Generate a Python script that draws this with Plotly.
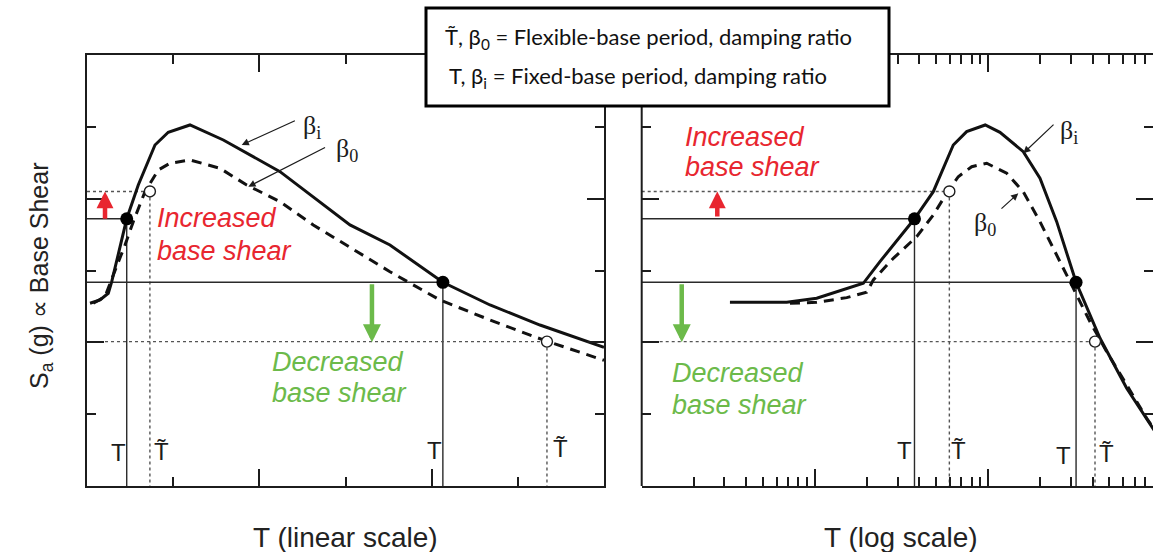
import numpy as np
import plotly.graph_objects as go

# ---------------- data ----------------
# Left panel: linear period axis (arbitrary units 0..6), Sa in arbitrary units 0..6
T_lin_fixed = [0.035, 0.151, 0.247, 0.287, 0.461, 0.595, 0.789, 0.943, 1.195, 1.582,
               2.240, 3.052, 3.516, 4.13, 4.677, 5.257, 6.0]
Sa_lin_fixed = [2.544, 2.589, 2.683, 2.844, 3.72, 4.190, 4.747, 4.924, 5.026, 4.817,
                4.376, 3.634, 3.355, 2.836, 2.520, 2.241, 1.93]
T_lin_flex = [0.073, 0.209, 0.305, 0.441, 0.537, 0.673, 0.827, 0.963, 1.195, 1.543,
              1.853, 2.240, 2.626, 3.014, 3.516, 4.097, 4.677, 5.295, 6.0]
Sa_lin_flex = [2.544, 2.635, 2.937, 3.355, 3.680, 4.097, 4.399, 4.493, 4.539, 4.423,
               4.190, 3.958, 3.634, 3.355, 2.983, 2.589, 2.311, 2.033, 1.75]

# Right panel: log period axis (0.01..~9)
T_log_fixed = [0.0323, 0.0687, 0.1023, 0.1456, 0.190, 0.237, 0.309, 0.375, 0.4815, 0.628,
               0.750, 0.96, 1.168, 1.592, 1.987, 2.481, 3.21, 4.413, 6.289, 8.885, 9.8]
Sa_log_fixed = [2.557, 2.557, 2.613, 2.729, 2.822, 3.123, 3.460, 3.72, 4.097, 4.747,
                4.933, 5.026, 4.924, 4.654, 4.284, 3.680, 2.836, 2.056, 1.360, 0.803, 0.65]
T_log_flex = [0.0717, 0.1023, 0.1524, 0.1987, 0.2170, 0.283, 0.386, 0.4815, 0.575, 0.671,
              0.802, 0.979, 1.277, 1.592, 1.987, 2.481, 3.164, 3.863, 4.823, 6.289, 8.204, 9.8]
Sa_log_flex = [2.544, 2.557, 2.622, 2.697, 2.868, 3.170, 3.471, 3.773, 4.074, 4.306,
               4.445, 4.493, 4.354, 4.097, 3.680, 3.216, 2.705, 2.287, 1.870, 1.406, 0.943, 0.668]

# Key points: fixed-base (T, beta_i) -> filled dots ; flexible-base (T~, beta_0) -> open circles
Sa_fixed_pts = [3.72, 2.836]
Sa_flex_pts = [4.10, 2.01]
T_fixed_lin = [0.461, 4.13]
T_flex_lin = [0.73, 5.338]
T_fixed_log = [0.375, 3.21]
T_flex_log = [0.596, 4.128]

X_LIN_RANGE = [0, 6]
Y_RANGE = [0, 6]
T_LOG_MIN = 0.01
X_LOG_RANGE = [-2, 0.9504]

# ---------------- layout constants ----------------
W, H = 1153, 552
def px_x(p):
    return p / W
def px_y(p):
    return (H - p) / H

XL_DOM = [px_x(87), px_x(604)]
XR_DOM = [px_x(641.7), 1.0]
Y_DOM = [px_y(486), px_y(55)]

INK = "#1c1c1c"
RED = "#e8262f"
GREEN = "#6cba4a"
SANS = "Liberation Sans, Arial, sans-serif"
SERIF = "Liberation Serif, Times New Roman, serif"

fig = go.Figure()


def add_line(x, y, xa, ya, color=INK, width=1.5, dash=None):
    fig.add_trace(go.Scatter(x=x, y=y, xaxis=xa, yaxis=ya, mode="lines",
                             line=dict(color=color, width=width, dash=dash),
                             hoverinfo="skip", showlegend=False))


# guide lines
for (xa, ya, x_min, Tfix, Tflex) in [("x", "y", X_LIN_RANGE[0], T_fixed_lin, T_flex_lin),
                                     ("x2", "y2", T_LOG_MIN, T_fixed_log, T_flex_log)]:
    for i in range(2):
        add_line([x_min, Tfix[i]], [Sa_fixed_pts[i], Sa_fixed_pts[i]], xa, ya, "#2a2a2a", 1.4)
        add_line([Tfix[i], Tfix[i]], [Sa_fixed_pts[i], Y_RANGE[0]], xa, ya, "#2a2a2a", 1.4)
        add_line([x_min, Tflex[i]], [Sa_flex_pts[i], Sa_flex_pts[i]], xa, ya, "#555555", 1.4, "dot")
        add_line([Tflex[i], Tflex[i]], [Sa_flex_pts[i], Y_RANGE[0]], xa, ya, "#555555", 1.4, "dot")

# spectra
add_line(T_lin_fixed, Sa_lin_fixed, "x", "y", "#111111", 3)
add_line(T_lin_flex, Sa_lin_flex, "x", "y", "#111111", 3, "10px,7px")
add_line(T_log_fixed, Sa_log_fixed, "x2", "y2", "#111111", 3)
add_line(T_log_flex, Sa_log_flex, "x2", "y2", "#111111", 3, "10px,7px")

# markers
for (xa, ya, Tfix, Tflex) in [("x", "y", T_fixed_lin, T_flex_lin),
                              ("x2", "y2", T_fixed_log, T_flex_log)]:
    fig.add_trace(go.Scatter(x=Tflex, y=Sa_flex_pts, xaxis=xa, yaxis=ya, mode="markers",
                             marker=dict(size=11, color="white", line=dict(color=INK, width=1.4)),
                             hoverinfo="skip", showlegend=False))
    fig.add_trace(go.Scatter(x=Tfix, y=Sa_fixed_pts, xaxis=xa, yaxis=ya, mode="markers",
                             marker=dict(size=13, color="#000000"),
                             hoverinfo="skip", showlegend=False))

# axes
minor_common = dict(ticks="inside", ticklen=9, tickwidth=1.5, tickcolor=INK, showgrid=False)
ax_common = dict(showgrid=False, zeroline=False, showticklabels=False, ticks="inside",
                 ticklen=17, tickwidth=1.5, tickcolor=INK, mirror="ticks",
                 linecolor=INK, linewidth=2, showline=True)

fig.update_layout(
    width=W, height=H, margin=dict(l=0, r=0, t=0, b=0),
    paper_bgcolor="white", plot_bgcolor="white", showlegend=False,
    xaxis=dict(domain=XL_DOM, range=X_LIN_RANGE, tick0=0, dtick=2, anchor="y",
               minor=dict(dtick=1, **minor_common), **ax_common),
    yaxis=dict(domain=Y_DOM, range=Y_RANGE, tick0=0, dtick=2, anchor="x",
               minor=dict(dtick=1, **minor_common), **ax_common),
    xaxis2=dict(domain=XR_DOM, type="log", range=X_LOG_RANGE, dtick=1, anchor="y2",
                minor=dict(dtick="D1", **minor_common), **ax_common),
    yaxis2=dict(domain=Y_DOM, range=Y_RANGE, tick0=0, dtick=2, anchor="x2",
                minor=dict(dtick=1, **minor_common),
                **{**ax_common, "showline": False}),
)

shapes = [
    # left border of the right panel (its right border lies beyond the page)
    dict(type="line", xref="paper", yref="paper", x0=XR_DOM[0], x1=XR_DOM[0],
         y0=Y_DOM[0], y1=Y_DOM[1], line=dict(color=INK, width=2), layer="above"),
    # definition box
    dict(type="rect", xref="paper", yref="paper", x0=px_x(426), x1=px_x(889),
         y0=px_y(106), y1=px_y(8), fillcolor="white", line=dict(color="#000000", width=3),
         layer="above"),
]
fig.update_layout(shapes=shapes)

ann = []


def text(x, y, s, xref, yref, size, color=INK, family=SANS, xanchor="center",
         yanchor="middle", angle=0):
    ann.append(dict(x=x, y=y, xref=xref, yref=yref, text=s, showarrow=False,
                    font=dict(size=size, color=color, family=family),
                    xanchor=xanchor, yanchor=yanchor, textangle=angle))


def arrow(x, y, ax, ay, xref, yref, color, width, size, head=2):
    ann.append(dict(x=x, y=y, ax=ax, ay=ay, xref=xref, yref=yref, axref=xref, ayref=yref,
                    text="", showarrow=True, arrowhead=head, arrowsize=size,
                    arrowwidth=width, arrowcolor=color, standoff=0, startstandoff=0))


L = np.log10
# Left panel texts
text(0.789, (486 - 218) / 71.83, "<i>Increased</i>", "x", "y", 27, RED, xanchor="left")
text(0.789, (486 - 251) / 71.83, "<i>base shear</i>", "x", "y", 27, RED, xanchor="left")
text(2.124, (486 - 362) / 71.83, "<i>Decreased</i>", "x", "y", 27, GREEN, xanchor="left")
text(2.124, (486 - 393) / 71.83, "<i>base shear</i>", "x", "y", 27, GREEN, xanchor="left")
# Right panel texts
text(L(0.01738), (486 - 137) / 71.83, "<i>Increased</i>", "x2", "y2", 27, RED, xanchor="left")
text(L(0.01738), (486 - 167) / 71.83, "<i>base shear</i>", "x2", "y2", 27, RED, xanchor="left")
text(L(0.01456), (486 - 373) / 71.83, "<i>Decreased</i>", "x2", "y2", 27, GREEN, xanchor="left")
text(L(0.01456), (486 - 405) / 71.83, "<i>base shear</i>", "x2", "y2", 27, GREEN, xanchor="left")

# arrows showing shear change
arrow(0.209, 4.10, 0.209, 3.70, "x", "y", RED, 4.5, 0.75)
arrow(L(0.0273), 4.10, L(0.0273), 3.73, "x2", "y2", RED, 4.5, 0.75)
arrow(3.307, 2.00, 3.307, 2.83, "x", "y", GREEN, 4.5, 0.8)
arrow(L(0.01702), 2.00, L(0.01702), 2.83, "x2", "y2", GREEN, 4.5, 0.8)

# beta labels and pointers
text(2.61, (486 - 127) / 71.83, "β<sub>i</sub>", "x", "y", 26, INK, SERIF)
text(3.02, (486 - 150) / 71.83, "β<sub>0</sub>", "x", "y", 26, INK, SERIF)
arrow(1.795, 4.747, 2.43, 5.095, "x", "y", INK, 1.2, 1.2)
arrow(1.872, 4.167, 2.78, 4.724, "x", "y", INK, 1.2, 1.2)
text(0.4667, (486 - 132) / 71.83, "β<sub>i</sub>", "x2", "y2", 26, INK, SERIF)
text(-0.0173, (486 - 224) / 71.83, "β<sub>0</sub>", "x2", "y2", 26, INK, SERIF)
arrow(L(1.592), 4.631, L(2.427), 5.05, "x2", "y2", INK, 1.2, 1.2)
arrow(L(1.489), 4.074, L(1.168), 3.843, "x2", "y2", INK, 1.2, 1.2)

# T / T~ labels near the bottom
TT = "T\u0303"
text(0.363, 0.46, "T", "x", "y", 24)
text(0.867, 0.48, TT, "x", "y", 24)
text(4.03, 0.49, "T", "x", "y", 24)
text(5.49, 0.52, TT, "x", "y", 24)
text(-0.4807, 0.49, "T", "x2", "y2", 24)
text(-0.1731, 0.50, TT, "x2", "y2", 24)
text(0.4328, 0.43, "T", "x2", "y2", 24)
text(0.6792, 0.45, TT, "x2", "y2", 24)

# axis titles
text(px_x(345.5), px_y(537), "T (linear scale)", "paper", "paper", 28, "#222222")
text(px_x(900.5), px_y(537), "T (log scale)", "paper", "paper", 28, "#222222")
text(px_x(41), px_y(276), "S<sub>a</sub> (g) ∝ Base Shear", "paper", "paper", 25, "#222222", angle=-90)

# definition box text
BOXF = "Lato, Open Sans, sans-serif"
text(px_x(443), px_y(38), "T\u0303, β<sub>0</sub> = Flexible-base period, damping ratio",
     "paper", "paper", 22, "#111111", BOXF, xanchor="left")
text(px_x(447), px_y(77), "T, β<sub>i</sub> = Fixed-base period, damping ratio",
     "paper", "paper", 22, "#111111", BOXF, xanchor="left")

fig.update_layout(annotations=ann)
fig.write_html("out.html")
